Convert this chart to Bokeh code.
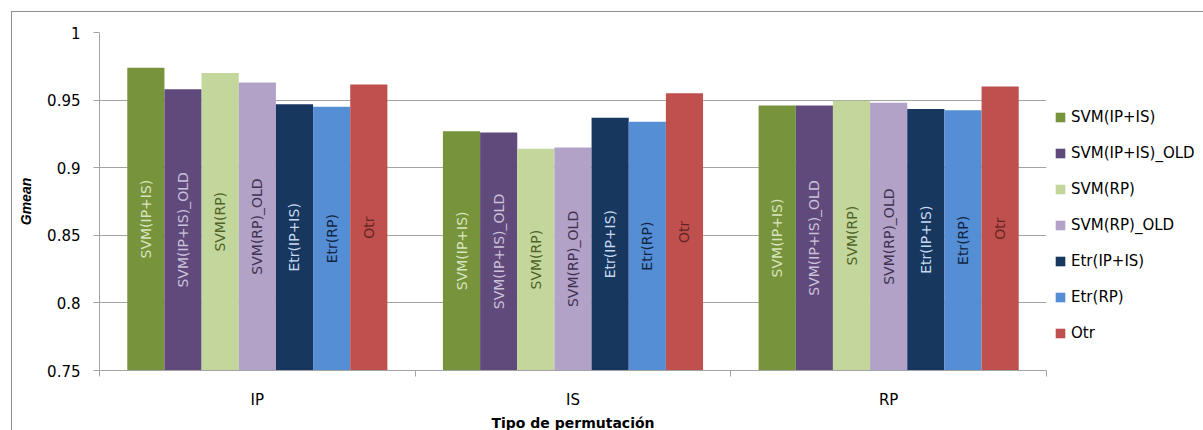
import math
from bokeh.plotting import figure
from bokeh.models import (ColumnDataSource, Range1d, FixedTicker, Legend, LegendItem)
from bokeh.core.properties import value
from bokeh.embed import file_html
from bokeh.resources import INLINE

# ---- data ----
categories = ["IP", "IS", "RP"]
series = ["SVM(IP+IS)", "SVM(IP+IS)_OLD", "SVM(RP)", "SVM(RP)_OLD",
          "Etr(IP+IS)", "Etr(RP)", "Otr"]
svm_ipis = [0.974, 0.927, 0.946]
svm_ipis_old = [0.958, 0.926, 0.946]
svm_rp = [0.970, 0.914, 0.9495]
svm_rp_old = [0.963, 0.915, 0.948]
etr_ipis = [0.947, 0.937, 0.9435]
etr_rp = [0.945, 0.934, 0.9425]
otr = [0.9615, 0.955, 0.960]
values = [svm_ipis, svm_ipis_old, svm_rp, svm_rp_old, etr_ipis, etr_rp, otr]
y_ticks = [0.75, 0.8, 0.85, 0.9, 0.95, 1.0]
y_tick_labels = ["0.75", "0.8", "0.85", "0.9", "0.95", "1"]
y_min, y_max = 0.75, 1.0
x_title = "Tipo de permutación"
y_title = "Gmean"

# ---- style ----
bar_colors = ["#77933C", "#604A7B", "#C3D69B", "#B3A2C7", "#17375E", "#558ED5", "#C0504D"]
text_colors = ["#D7E4BD", "#CCC1DA", "#4F6228", "#403152", "#C6D9F1", "#10253F", "#632523"]
FONT = "DejaVu Sans"
GRID = "#a3a3a3"
OFF = 12  # outer margin + border

p = figure(frame_width=947, frame_height=338, output_backend="svg", toolbar_location=None,
           x_range=Range1d(0, len(categories)), y_range=Range1d(y_min, y_max),
           min_border_left=99 - OFF, min_border_right=0, min_border_top=32 - OFF,
           min_border_bottom=0)
p.margin = (11, 0, 0, 11)
p.styles = {"border-top": "1px solid #8e8e8e", "border-left": "1px solid #8e8e8e"}
p.outline_line_color = None
p.background_fill_color = "white"
p.border_fill_color = "white"

group_w = 0.824
n = len(series)
bw = group_w / n
renderers = []
for j, (name, vals) in enumerate(zip(series, values)):
    xs = [i + (1 - group_w) / 2 + (j + 0.5) * bw for i in range(len(categories))]
    src = ColumnDataSource(dict(x=xs, top=vals, mid=[(y_min + v) / 2 for v in vals],
                                lab=[name] * len(vals)))
    r = p.vbar(x="x", top="top", bottom=y_min, width=bw, source=src,
               fill_color=bar_colors[j], line_color=None)
    renderers.append(r)
    p.text(x="x", y="mid", text="lab", source=src, angle=math.pi / 2,
           text_align="center", text_baseline="middle",
           text_font=value(FONT), text_font_size="14px", text_color=text_colors[j])

# y axis
p.yaxis.ticker = FixedTicker(ticks=y_ticks)
p.yaxis.major_label_overrides = dict(zip(y_ticks, y_tick_labels))
p.yaxis.axis_line_color = GRID
p.yaxis.major_tick_line_color = GRID
p.yaxis.major_tick_out = 6
p.yaxis.major_tick_in = 0
p.yaxis.minor_tick_line_color = None
p.yaxis.major_label_text_font = FONT
p.yaxis.major_label_text_font_size = "15px"
p.yaxis.major_label_text_color = "black"
p.yaxis.major_label_standoff = 13
p.yaxis.axis_label = y_title
p.yaxis.axis_label_text_font = "Liberation Sans"
p.yaxis.axis_label_text_font_style = "bold italic"
p.yaxis.axis_label_text_font_size = "14px"
p.yaxis.axis_label_text_color = "black"
p.yaxis.axis_label_standoff = 10

# x axis
p.xaxis.ticker = FixedTicker(ticks=[i + 0.5 for i in range(len(categories))],
                             minor_ticks=list(range(len(categories) + 1)))
p.xaxis.major_label_overrides = {i + 0.5: c for i, c in enumerate(categories)}
p.xaxis.axis_line_color = GRID
p.xaxis.major_tick_line_color = None
p.xaxis.major_tick_out = 0
p.xaxis.major_tick_in = 0
p.xaxis.minor_tick_line_color = GRID
p.xaxis.minor_tick_out = 6
p.xaxis.minor_tick_in = 0
p.xaxis.major_label_text_font = FONT
p.xaxis.major_label_text_font_size = "15px"
p.xaxis.major_label_text_color = "black"
p.xaxis.major_label_standoff = 14
p.xaxis.axis_label = x_title
p.xaxis.axis_label_text_font = FONT
p.xaxis.axis_label_text_font_style = "bold"
p.xaxis.axis_label_text_font_size = "14px"
p.xaxis.axis_label_text_color = "black"
p.xaxis.axis_label_standoff = 3

p.xgrid.grid_line_color = None
p.ygrid.ticker = FixedTicker(ticks=y_ticks)
p.ygrid.grid_line_color = GRID
p.ygrid.grid_line_width = 1

# legend
legend = Legend(items=[LegendItem(label=s, renderers=[r]) for s, r in zip(series, renderers)],
                location=(8, 28), orientation="vertical",
                glyph_width=12, glyph_height=12, label_standoff=5,
                label_text_font=FONT, label_text_font_size="15px", label_text_color="black",
                spacing=18, padding=0, margin=0, border_line_color=None,
                background_fill_alpha=0)
p.add_layout(legend, "right")

open("out.html", "w").write(file_html(p, INLINE))
